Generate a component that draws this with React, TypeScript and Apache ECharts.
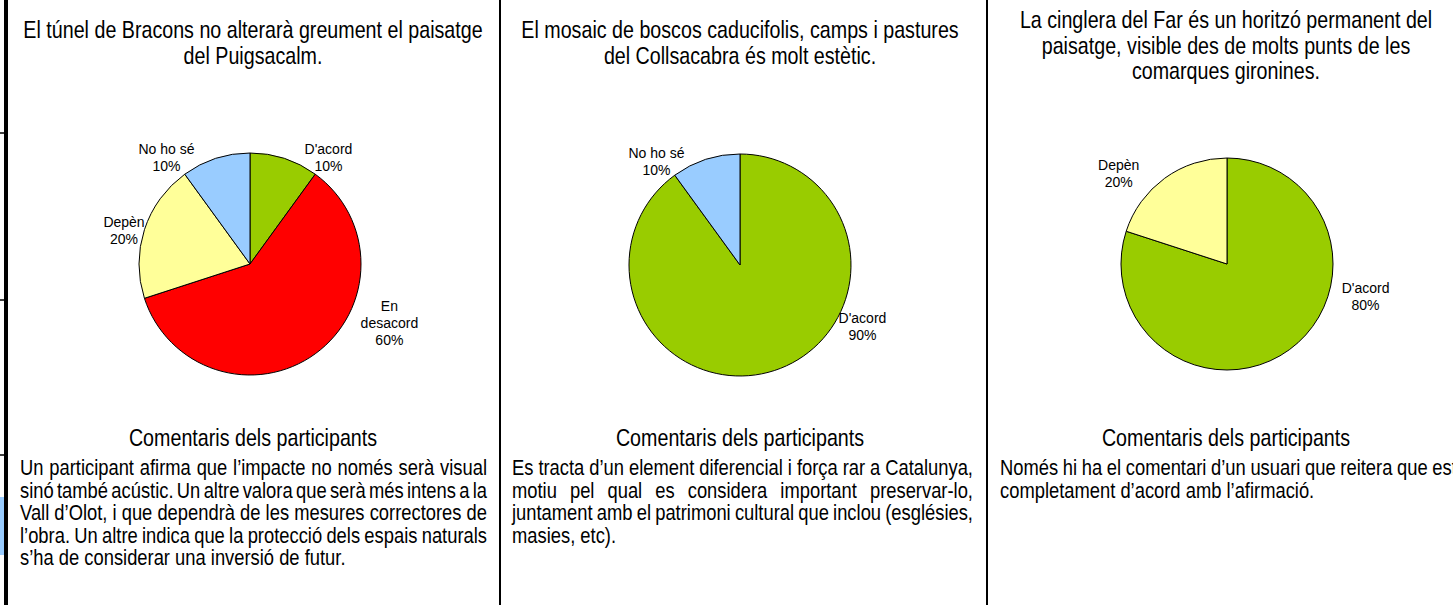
import React, { useEffect, useRef } from 'react';
import * as echarts from 'echarts';

// ---------- data ----------
const titles: string[][] = [
  ['El túnel de Bracons no alterarà greument el paisatge', 'del Puigsacalm.'],
  ['El mosaic de boscos caducifolis, camps i pastures', 'del Collsacabra és molt estètic.'],
  ['La cinglera del Far és un horitzó permanent del', 'paisatge, visible des de molts punts de les', 'comarques gironines.'],
];
const commentHeading = 'Comentaris dels participants';
const comments: string[][] = [
  [
    'Un participant afirma que l’impacte no només serà visual',
    'sinó també acústic. Un altre valora que serà més intens a la',
    'Vall d’Olot, i que dependrà de les mesures correctores de',
    'l’obra. Un altre indica que la protecció dels espais naturals',
    's’ha de considerar una inversió de futur.',
  ],
  [
    'Es tracta d’un element diferencial i força rar a Catalunya,',
    'motiu pel qual es considera important preservar-lo,',
    'juntament amb el patrimoni cultural que inclou (esglésies,',
    'masies, etc).',
  ],
  [
    'Només hi ha el comentari d’un usuari que reitera que està',
    'completament d’acord amb l’afirmació.',
  ],
];

const pie1Names = ["D'acord", 'En desacord', 'Depèn', 'No ho sé'];
const pie1Values = [10, 60, 20, 10];
const pie2Names = ["D'acord", 'No ho sé'];
const pie2Values = [90, 10];
const pie3Names = ["D'acord", 'Depèn'];
const pie3Values = [80, 20];

const categoryColors: Record<string, string> = {
  "D'acord": '#99CC00',
  'En desacord': '#FF0000',
  'Depèn': '#FFFF99',
  'No ho sé': '#99CCFF',
};
const labelBreaks: Record<string, string> = { 'En desacord': 'En\ndesacord' };

// ---------- layout ----------
const FONT = "'Liberation Sans', Arial, sans-serif";
const NARROW = 0.82; // horizontal squeeze to imitate a narrow face
const TITLE_SIZE = 24;
const BODY_SIZE = 22.4;
const LABEL_SIZE = 14;
const panelCenters = [253, 740, 1226];
const bodyLeft = [20, 512, 1000];
const bodyRight = [487, 973, 1467];
const titleTop = [30, 30, 20];
const titleStep = 25.5;
const headingY = 438;
const bodyTop = 467;
const bodyStep = 22.5;
const pieCenters: [number, number][] = [[250, 264], [740, 265], [1227, 264]];
const pieRadii = [111, 111, 106];
// label nudges (series -> data index -> [dx, dy])
const labelNudge: [number, number][][] = [
  [[6, 3], [30, -34], [17, 2], [-7, 3]],
  [[50, -48], [-7, 6]],
  [[37, -56], [-10, -2]],
];

export default function App() {
  const ref = useRef<HTMLDivElement>(null);
  useEffect(() => {
    const el = ref.current!;
    const chart = echarts.init(el, undefined, { renderer: 'svg' });
    const ctx = document.createElement('canvas').getContext('2d')!;
    const measure = (t: string, size: number) => {
      ctx.font = `${size}px ${FONT}`;
      return ctx.measureText(t).width * NARROW;
    };
    const textEl = (text: string, x: number, y: number, align: string, size: number) => ({
      type: 'text',
      x,
      y,
      scaleX: NARROW,
      silent: true,
      style: {
        text,
        fontSize: size,
        fontFamily: FONT,
        fill: '#000',
        textAlign: align,
        align,
        textVerticalAlign: 'middle',
        verticalAlign: 'middle',
      },
    });

    const graphics: any[] = [];
    graphics.push({ type: 'rect', shape: { x: 4, y: 0, width: 4, height: 605 }, style: { fill: '#000' }, silent: true });
    [133, 300, 455].forEach((y) =>
      graphics.push({ type: 'line', shape: { x1: 0, y1: y, x2: 8, y2: y }, style: { stroke: '#000', lineWidth: 1.5 }, silent: true })
    );
    graphics.push({ type: 'rect', shape: { x: 0, y: 497, width: 4, height: 58 }, style: { fill: '#99CCFF' }, silent: true });
    [500, 987].forEach((x) =>
      graphics.push({ type: 'rect', shape: { x: x - 1, y: 0, width: 2, height: 605 }, style: { fill: '#000' }, silent: true })
    );

    titles.forEach((lines, p) => {
      lines.forEach((line, i) => graphics.push(textEl(line, panelCenters[p], titleTop[p] + i * titleStep, 'center', TITLE_SIZE)));
      graphics.push(textEl(commentHeading, panelCenters[p], headingY, 'center', TITLE_SIZE));
    });

    comments.forEach((lines, p) => {
      lines.forEach((line, i) => {
        const y = bodyTop + i * bodyStep;
        const isLast = i === lines.length - 1;
        if (isLast) {
          graphics.push(textEl(line, bodyLeft[p], y, 'left', BODY_SIZE));
          return;
        }
        const words = line.split(' ');
        const widths = words.map((w) => measure(w, BODY_SIZE));
        const total = widths.reduce((a, b) => a + b, 0);
        const gap = (bodyRight[p] - bodyLeft[p] - total) / (words.length - 1);
        let x = bodyLeft[p];
        words.forEach((w, k) => {
          graphics.push(textEl(w, x, y, 'left', BODY_SIZE));
          x += widths[k] + gap;
        });
      });
    });

    const makePie = (names: string[], values: number[], idx: number) => ({
      type: 'pie',
      center: pieCenters[idx],
      radius: pieRadii[idx],
      startAngle: 90,
      clockwise: true,
      avoidLabelOverlap: false,
      silent: true,
      emphasis: { disabled: true },
      itemStyle: { borderColor: '#000', borderWidth: 1 },
      label: {
        show: true,
        position: 'outside',
        formatter: (p: any) => {
          const nm = labelBreaks[p.name] || p.name;
          return [...nm.split('\n'), `${Math.round(p.percent)}%`].map((s) => `{c|${s}}`).join('\n');
        },
        rich: {
          c: { align: 'center', fontSize: LABEL_SIZE, fontFamily: FONT, color: '#000', lineHeight: 17 },
        },
      },
      labelLine: { show: false, length: 4, length2: 8 },
      labelLayout: (p: any) => {
        const n = labelNudge[idx][p.dataIndex] || [0, 0];
        return { dx: n[0], dy: n[1] };
      },
      data: names.map((n, i) => ({ name: n, value: values[i], itemStyle: { color: categoryColors[n] } })),
    });

    chart.setOption({
      animation: false,
      backgroundColor: '#fff',
      graphic: { elements: graphics },
      series: [makePie(pie1Names, pie1Values, 0), makePie(pie2Names, pie2Values, 1), makePie(pie3Names, pie3Values, 2)],
    });
    return () => chart.dispose();
  }, []);
  return <div ref={ref} style={{ position: 'fixed', left: 0, top: 0, width: 1453, height: 605, background: '#fff' }} />;
}
